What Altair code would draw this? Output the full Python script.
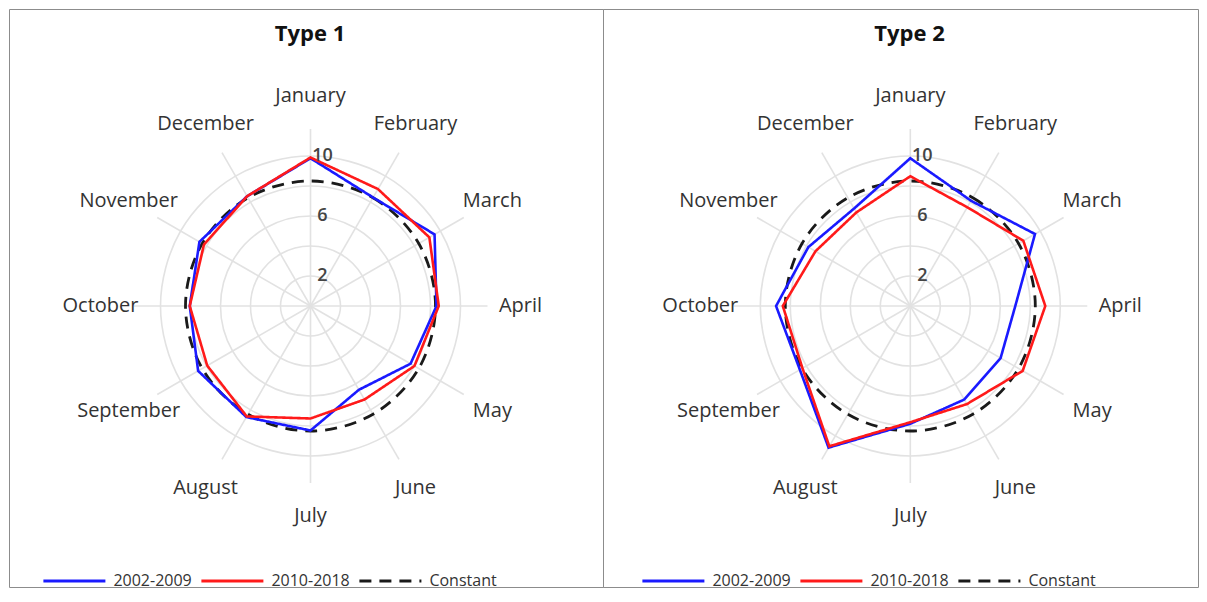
import altair as alt
import pandas as pd

# ---------------- data ----------------
months = ["January", "February", "March", "April", "May", "June",
          "July", "August", "September", "October", "November", "December"]
series_names = ["2002-2009", "2010-2018", "Constant"]

type1_2002_2009 = [9.85, 8.35, 9.55, 8.40, 7.70, 6.45, 8.30, 8.55, 8.65, 8.05, 8.55, 8.45]
type1_2010_2018 = [9.90, 9.00, 9.15, 8.55, 8.00, 7.20, 7.50, 8.50, 7.95, 8.05, 8.20, 8.45]
type2_2002_2009 = [9.85, 8.10, 9.60, 7.00, 6.95, 7.20, 7.85, 10.90, 8.50, 8.95, 7.85, 7.50]
type2_2010_2018 = [8.65, 7.60, 8.70, 9.00, 8.65, 7.55, 7.75, 10.80, 8.30, 8.50, 7.30, 7.20]
constant_value = 100 / 12

grid_values = [2, 4, 6, 8, 10]
tick_label_values = [2, 6, 10]
panel_titles = ["Type 1", "Type 2"]

# ---------------- layout / style ----------------
PX = 15.0            # pixels per unit
H = 578
CTOP = 297           # radar centre below view top
SPOKE_R = 11.8
LABEL_R = 14.0
FONT = "Open Sans"
colors = ["#1a1aff", "#ff1a1a", "#1a1a1a"]
dashes = [[1, 0], [1, 0], [12, 8]]


def panel(title, vals_a, vals_b, width, cx, legend_x, title_dx):
    xs = alt.Scale(domain=[-cx / PX, (width - cx) / PX], nice=False, zero=False)
    ys = alt.Scale(domain=[-(H - CTOP) / PX, CTOP / PX], nice=False, zero=False)

    legend = alt.Legend(
        orient="none", legendX=legend_x, legendY=564, direction="horizontal",
        title=None, symbolType="M-6,0H6", symbolSize=106.8, symbolStrokeWidth=2.8,
        symbolOffset=24.4, labelOffset=31, columnPadding=3, padding=0,
        labelFont=FONT, labelFontSize=16, labelColor="#333333", labelLimit=0,
    )
    color = alt.Color("series:N", scale=alt.Scale(domain=series_names, range=colors), legend=legend)
    dash = alt.StrokeDash("series:N", scale=alt.Scale(domain=series_names, range=dashes), legend=legend)

    rows = []
    for name, vals in [(series_names[0], vals_a), (series_names[1], vals_b)]:
        for i, (m, v) in enumerate(zip(months, vals)):
            rows.append({"series": name, "i": i, "month": m, "value": v})
    line_df = pd.DataFrame(rows)

    const_df = pd.DataFrame({"series": "Constant", "i": list(range(12)), "value": constant_value})
    ring_df = pd.DataFrame([{"ring": g, "i": i} for g in grid_values for i in range(12)])
    month_df = pd.DataFrame({"i": list(range(12)), "month": months})
    tick_df = pd.DataFrame({"value": tick_label_values, "zero": 0.0})

    polar = dict(a="datum.i * PI / 6")

    rings = alt.Chart(ring_df).transform_calculate(
        **polar,
        px="datum.ring * sin(datum.a)",
        py="datum.ring * cos(datum.a)",
    ).mark_line(interpolate="cardinal-closed", stroke="#e2e2e2", strokeWidth=1.6).encode(
        x=alt.X("px:Q", scale=xs, axis=None),
        y=alt.Y("py:Q", scale=ys, axis=None),
        order="i:Q", detail="ring:Q",
    )

    spokes = alt.Chart(month_df).transform_calculate(
        **polar,
        x0="0", y0="0",
        x1=f"{SPOKE_R} * sin(datum.a)",
        y1=f"{SPOKE_R} * cos(datum.a)",
    ).mark_rule(stroke="#e2e2e2", strokeWidth=1.6).encode(
        x=alt.X("x0:Q", scale=xs, axis=None),
        y=alt.Y("y0:Q", scale=ys, axis=None),
        x2="x1:Q", y2="y1:Q",
    )

    const = alt.Chart(const_df).transform_calculate(
        **polar,
        px="datum.value * sin(datum.a)",
        py="datum.value * cos(datum.a)",
    ).mark_line(interpolate="cardinal-closed", strokeWidth=2.8).encode(
        x=alt.X("px:Q", scale=xs, axis=None),
        y=alt.Y("py:Q", scale=ys, axis=None),
        order="i:Q", color=color, strokeDash=dash,
    )

    lines = alt.Chart(line_df).transform_calculate(
        **polar,
        px="datum.value * sin(datum.a)",
        py="datum.value * cos(datum.a)",
    ).mark_line(interpolate="linear-closed", strokeWidth=2.6).encode(
        x=alt.X("px:Q", scale=xs, axis=None),
        y=alt.Y("py:Q", scale=ys, axis=None),
        order="i:Q", color=color, strokeDash=dash,
    )

    ticks = alt.Chart(tick_df).mark_text(
        font=FONT, fontSize=18, fontWeight=600, color="#444444",
        align="center", baseline="middle", dx=12,
    ).encode(
        x=alt.X("zero:Q", scale=xs, axis=None),
        y=alt.Y("value:Q", scale=ys, axis=None),
        text=alt.Text("value:Q"),
    )

    labels = alt.Chart(month_df).transform_calculate(
        **polar,
        lx=f"{LABEL_R} * sin(datum.a)",
        ly=f"{LABEL_R} * cos(datum.a)",
    ).mark_text(
        font=FONT, fontSize=20, color="#333333", align="center", baseline="middle",
    ).encode(
        x=alt.X("lx:Q", scale=xs, axis=None),
        y=alt.Y("ly:Q", scale=ys, axis=None),
        text="month:N",
    )

    return alt.layer(rings, spokes, const, lines, ticks, labels).properties(
        width=width, height=H,
        title=alt.Title(title, font=FONT, fontSize=22, fontWeight="bold", color="#111111",
                        anchor="middle", baseline="alphabetic", offset=-54, dx=title_dx,
                        frame="group"),
    )


p1 = panel(panel_titles[0], type1_2002_2009, type1_2010_2018, 594, 301.5, 33, 4)
p2 = panel(panel_titles[1], type2_2002_2009, type2_2010_2018, 595, 307.3, 38, 9)

chart = alt.hconcat(p1, p2, spacing=0, bounds="flush").resolve_scale(
    color="independent", strokeDash="independent", x="independent", y="independent",
).resolve_legend(
    color="independent", strokeDash="independent",
).configure_view(
    stroke="#8c8c8c", strokeWidth=1,
).properties(padding=0)

chart.save("out.html", embed_options={"renderer": "svg", "actions": False})
